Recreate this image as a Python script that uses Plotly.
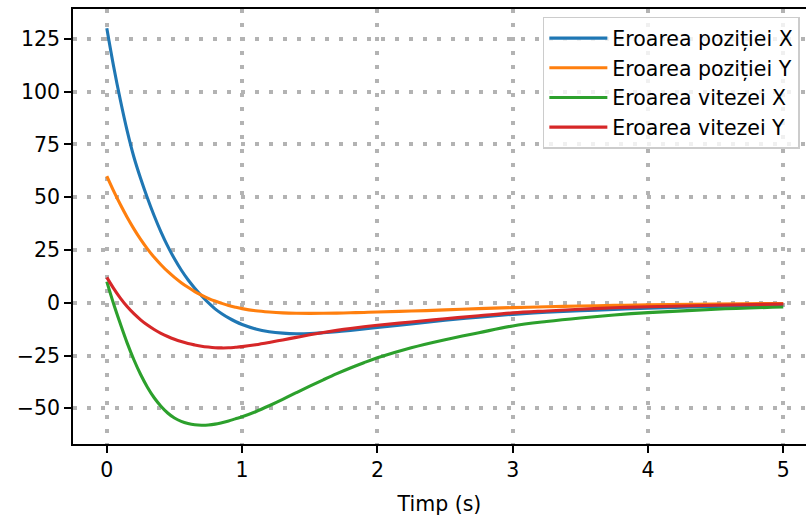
import plotly.graph_objects as go

# Time samples (s)
t = [0.0, 0.05, 0.1, 0.15, 0.2, 0.25, 0.3, 0.35, 0.4, 0.45, 0.5,
     0.55, 0.6, 0.65, 0.7, 0.75, 0.8, 0.85, 0.9, 0.95, 1.0,
     1.1, 1.2, 1.3, 1.4, 1.5, 1.6, 1.7, 1.8, 1.9, 2.0,
     2.25, 2.5, 2.75, 3.0, 3.25, 3.5, 3.75, 4.0, 4.5, 5.0]

# Values
err_pos_x = [130, 112, 96, 81.5, 69, 58.8, 49.6, 41.2, 33.6, 26.8, 20.8,
             15.5, 10.9, 6.9, 3.3, 0.0, -2.9, -5.2, -7.2, -8.9, -10.3,
             -12.4, -13.7, -14.4, -14.7, -14.6, -14.2, -13.7, -13.1, -12.4, -11.7,
             -10.0, -8.3, -6.8, -5.5, -4.5, -3.8, -3.2, -2.6, -1.8, -1.1]
err_pos_y = [60, 53, 46.5, 40.5, 35, 30, 25.5, 21.5, 18, 14.8, 12,
             9.5, 7.3, 5.3, 3.6, 2.1, 0.8, -0.3, -1.3, -2.1, -2.8,
             -3.8, -4.4, -4.8, -5.0, -5.05, -5.0, -4.9, -4.75, -4.6, -4.4,
             -3.95, -3.4, -2.8, -2.3, -1.9, -1.55, -1.25, -1.0, -0.6, -0.35]
err_vel_x = [10, -0.5, -10, -19, -27, -34, -40, -45, -49, -52.2, -54.6,
             -56.2, -57.2, -57.8, -58.0, -57.9, -57.5, -56.8, -56.0, -55.0, -54.0,
             -51.6, -48.8, -45.8, -42.6, -39.5, -36.5, -33.6, -30.9, -28.4, -26.1,
             -21.3, -17.5, -14.2, -11.0, -8.9, -7.2, -5.8, -4.7, -3.1, -2.0]
err_vel_y = [12, 6.8, 2.2, -1.8, -5.2, -8.1, -10.6, -12.7, -14.5, -16.0, -17.3,
             -18.4, -19.3, -20.0, -20.6, -21.0, -21.3, -21.4, -21.35, -21.1, -20.8,
             -19.9, -18.8, -17.6, -16.4, -15.2, -14.1, -13.1, -12.2, -11.4, -10.7,
             -9.1, -7.6, -6.2, -4.8, -3.9, -3.1, -2.4, -1.9, -1.2, -0.6]

series = [
    ("Eroarea poziției X", err_pos_x, "#1f77b4"),
    ("Eroarea poziției Y", err_pos_y, "#ff7f0e"),
    ("Eroarea vitezei X", err_vel_x, "#2ca02c"),
    ("Eroarea vitezei Y", err_vel_y, "#d62728"),
]

x_ticks = [0, 1, 2, 3, 4, 5]
y_ticks = [-50, -25, 0, 25, 50, 75, 100, 125]

FONT = "DejaVu Sans"
FS = 20.5

fig = go.Figure()
for name, vals, color in series:
    fig.add_trace(go.Scatter(
        x=t, y=vals, name=name, mode="lines",
        line=dict(color=color, width=3.1, shape="spline", smoothing=1.0),
    ))

axis_common = dict(
    showline=True, linecolor="black", linewidth=1.6,
    ticks="outside", ticklen=7, tickwidth=1.6, tickcolor="black",
    showgrid=True, gridcolor="#b3b3b3", gridwidth=4, griddash="4px,10px",
    zeroline=False, tickfont=dict(family=FONT, size=FS, color="black"),
)

fig.update_layout(
    width=806, height=517,
    margin=dict(l=73, r=0, t=9, b=73),
    paper_bgcolor="white", plot_bgcolor="white",
    font=dict(family=FONT, size=FS, color="black"),
    xaxis=dict(range=[-0.25, 5.168], tickvals=x_ticks, mirror=True,
               title=dict(text="Timp (s)", font=dict(family=FONT, size=FS), standoff=15),
               **axis_common),
    yaxis=dict(range=[-66.9, 139.1], tickvals=y_ticks, mirror=False,
               **axis_common),
    legend=dict(
        x=0.641, y=0.982, xanchor="left", yanchor="top",
        itemwidth=58,
        bgcolor="rgba(255,255,255,0.8)", bordercolor="#cccccc", borderwidth=1.5,
        font=dict(family=FONT, size=FS, color="black"),
    ),
    showlegend=True,
)

fig.write_html("out.html")
